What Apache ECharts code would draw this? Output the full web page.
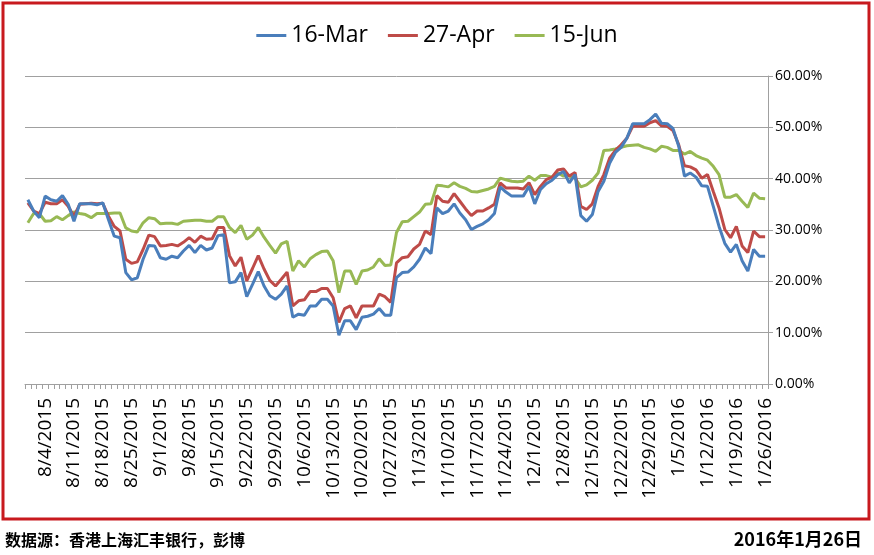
<!DOCTYPE html>
<html>
<head>
<meta charset="utf-8">
<script src="https://cdn.jsdelivr.net/npm/echarts@6/dist/echarts.min.js"></script>
<style>
html,body{margin:0;padding:0;background:#fff;}
#c{width:874px;height:555px;}
</style>
</head>
<body>
<div id="c"></div>
<script>
const categories = [
"7/30/2015","7/31/2015",
"8/3/2015","8/4/2015","8/5/2015","8/6/2015","8/7/2015",
"8/10/2015","8/11/2015","8/12/2015","8/13/2015","8/14/2015",
"8/17/2015","8/18/2015","8/19/2015","8/20/2015","8/21/2015",
"8/24/2015","8/25/2015","8/26/2015","8/27/2015","8/28/2015",
"8/31/2015","9/1/2015","9/2/2015","9/3/2015","9/4/2015",
"9/7/2015","9/8/2015","9/9/2015","9/10/2015","9/11/2015",
"9/14/2015","9/15/2015","9/16/2015","9/17/2015","9/18/2015",
"9/21/2015","9/22/2015","9/23/2015","9/24/2015","9/25/2015",
"9/28/2015","9/29/2015","9/30/2015","10/1/2015","10/2/2015",
"10/5/2015","10/6/2015","10/7/2015","10/8/2015","10/9/2015",
"10/12/2015","10/13/2015","10/14/2015","10/15/2015","10/16/2015",
"10/19/2015","10/20/2015","10/21/2015","10/22/2015","10/23/2015",
"10/26/2015","10/27/2015","10/28/2015","10/29/2015","10/30/2015",
"11/2/2015","11/3/2015","11/4/2015","11/5/2015","11/6/2015",
"11/9/2015","11/10/2015","11/11/2015","11/12/2015","11/13/2015",
"11/16/2015","11/17/2015","11/18/2015","11/19/2015","11/20/2015",
"11/23/2015","11/24/2015","11/25/2015","11/26/2015","11/27/2015",
"11/30/2015","12/1/2015","12/2/2015","12/3/2015","12/4/2015",
"12/7/2015","12/8/2015","12/9/2015","12/10/2015","12/11/2015",
"12/14/2015","12/15/2015","12/16/2015","12/17/2015","12/18/2015",
"12/21/2015","12/22/2015","12/23/2015","12/24/2015","12/25/2015",
"12/28/2015","12/29/2015","12/30/2015","12/31/2015","1/1/2016",
"1/4/2016","1/5/2016","1/6/2016","1/7/2016","1/8/2016",
"1/11/2016","1/12/2016","1/13/2016","1/14/2016","1/15/2016",
"1/18/2016","1/19/2016","1/20/2016","1/21/2016","1/22/2016",
"1/25/2016","1/26/2016"
];

const seriesNames = ["16-Mar", "27-Apr", "15-Jun"];

const mar16 = [
35.9,33.7,32.4,36.6,35.9,35.6,36.7,35.0,31.7,35.1,
35.1,35.1,34.9,35.3,32.0,28.8,28.5,21.7,20.3,20.7,
24.3,27.0,26.9,24.6,24.3,24.9,24.6,25.9,27.0,25.6,
27.0,26.1,26.5,28.9,29.1,19.7,19.9,21.7,17.0,19.4,
21.9,19.1,17.2,16.5,17.5,19.1,13.0,13.6,13.4,15.2,
15.2,16.5,16.5,15.2,9.5,12.3,12.3,10.6,13.0,13.2,
13.6,14.7,13.4,13.4,20.7,21.7,21.8,22.8,24.3,26.5,
25.4,34.3,33.2,33.7,35.1,33.3,32.0,30.1,30.7,31.2,
32.0,33.2,38.4,37.4,36.6,36.6,36.6,38.5,35.1,37.9,
39.0,39.7,40.8,41.4,39.2,40.8,32.8,31.7,33.0,37.5,
39.5,43.0,45.1,46.1,47.9,50.7,50.7,50.7,51.5,52.6,
50.8,50.7,49.8,46.3,40.5,41.1,40.3,38.6,38.5,34.6,
30.7,27.4,25.7,27.2,24.0,22.0,26.2,24.9,24.9
];

const apr27 = [
35.3,33.7,33.2,35.4,35.1,35.1,35.9,34.6,32.7,35.0,
35.1,35.2,35.1,35.2,32.7,30.7,29.8,24.3,23.5,23.8,
26.2,29.0,28.7,26.9,27.0,27.2,26.9,27.6,28.5,27.6,
28.8,28.2,28.3,30.5,30.5,25.0,23.0,24.7,20.1,22.5,
25.0,22.4,20.2,19.1,20.4,21.8,15.2,16.2,16.4,18.0,
18.0,18.6,18.6,16.8,12.0,14.7,15.2,12.9,15.2,15.2,
15.2,17.5,17.0,15.9,23.6,24.6,24.8,26.3,27.2,29.8,
29.1,36.7,35.6,35.4,37.1,35.6,34.1,32.8,33.7,33.7,
34.3,35.0,39.2,38.2,38.2,38.2,38.0,39.2,36.9,38.5,
39.8,40.3,41.7,41.9,40.5,41.2,34.6,34.0,35.1,38.5,
40.8,44.0,45.5,46.6,47.9,50.2,50.2,50.2,50.9,51.3,
50.3,50.2,49.4,46.6,42.5,42.3,41.7,40.1,40.8,37.5,
34.3,30.1,28.5,30.7,26.9,25.6,29.8,28.7,28.7
];

const jun15 = [
31.4,33.2,33.2,31.7,31.8,32.6,32.0,32.8,33.5,33.2,
33.0,32.4,33.2,33.2,33.2,33.3,33.3,30.4,29.8,29.6,
31.4,32.4,32.2,31.2,31.3,31.3,31.1,31.7,31.8,31.9,
31.9,31.7,31.7,32.6,32.6,30.5,29.5,30.9,28.2,29.0,
30.5,28.6,27.0,25.5,27.3,27.8,22.0,24.0,22.8,24.4,
25.2,25.8,25.9,24.0,17.8,22.0,22.0,19.4,22.0,22.2,
22.8,24.4,23.1,23.2,29.5,31.6,31.7,32.6,33.5,35.0,
35.1,38.7,38.6,38.4,39.2,38.5,38.1,37.5,37.4,37.7,
38.0,38.5,40.1,39.8,39.5,39.4,39.5,40.5,39.7,40.6,
40.6,40.3,41.1,40.5,40.5,40.1,38.4,38.8,39.7,41.1,
45.5,45.6,45.8,46.1,46.4,46.5,46.6,46.1,45.8,45.3,
46.3,46.1,45.5,45.5,44.8,45.3,44.5,44.0,43.6,42.4,
40.8,36.4,36.4,36.9,35.6,34.4,37.2,36.2,36.1
];

const yTicks = [0, 10, 20, 30, 40, 50, 60];
const sourceText = "数据源：香港上海汇丰银行，彭博";
const dateText = "2016年1月26日";

const colors = ["#4a7ebb", "#be4b48", "#98b954"];
const allData = [mar16, apr27, jun15];

const chart = echarts.init(document.getElementById('c'), null, {renderer: 'canvas'});
const font = '"Open Sans", "Liberation Sans", sans-serif';

chart.setOption({
  animation: false,
  backgroundColor: '#ffffff',
  color: colors,
  legend: {
    top: 19,
    left: 'center',
    icon: 'rect',
    itemWidth: 30,
    itemHeight: 3,
    itemGap: 20,
    textStyle: {fontFamily: font, fontSize: 23, color: '#000'},
    data: seriesNames
  },
  grid: {left: 25, right: 106, top: 76, bottom: 171},
  xAxis: {
    type: 'category',
    data: categories,
    boundaryGap: true,
    axisLine: {lineStyle: {color: '#a0a0a0', width: 1}},
    axisTick: {show: true, interval: 0, length: 5, lineStyle: {color: '#a0a0a0'}},
    axisLabel: {
      rotate: 90,
      interval: function (i) { return i >= 3 && (i - 3) % 5 === 0; },
      fontFamily: font,
      fontSize: 19,
      color: '#000',
      margin: 14
    },
    splitLine: {show: false}
  },
  yAxis: {
    type: 'value',
    position: 'right',
    min: yTicks[0],
    max: yTicks[yTicks.length - 1],
    interval: 10,
    axisLine: {show: true, lineStyle: {color: '#a0a0a0'}},
    axisTick: {show: true, length: 5, lineStyle: {color: '#a0a0a0'}},
    axisLabel: {
      formatter: function (v) { return v.toFixed(2) + '%'; },
      fontFamily: font,
      fontSize: 14,
      color: '#000',
      margin: 7
    },
    splitLine: {show: true, lineStyle: {color: '#a0a0a0', width: 1}}
  },
  series: seriesNames.map(function (n, k) {
    return {
      name: n,
      type: 'line',
      data: allData[k],
      showSymbol: false,
      symbol: 'none',
      lineStyle: {width: 3, color: colors[k]},
      itemStyle: {color: colors[k]},
      z: 3 - k
    };
  }),
  graphic: [
    {
      type: 'rect',
      shape: {x: 3, y: 3, width: 866, height: 516},
      style: {fill: null, stroke: '#c8191e', lineWidth: 3},
      silent: true
    },
    {
      type: 'text',
      left: 5,
      top: 532,
      style: {text: sourceText, font: 'bold 16px "Noto Sans CJK SC", sans-serif', fill: '#000'}
    },
    {
      type: 'text',
      right: 12,
      top: 530,
      style: {text: dateText, font: 'bold 18px "Noto Sans CJK SC", sans-serif', fill: '#000'}
    }
  ]
});
</script>
</body>
</html>
